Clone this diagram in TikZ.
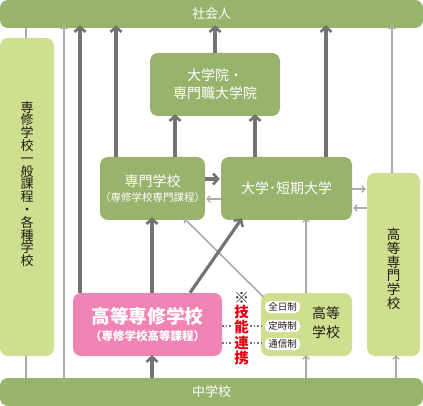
\documentclass[tikz,border=0pt]{standalone}
\usepackage{fontspec}
\setmainfont{Noto Sans CJK JP}
\usetikzlibrary{arrows.meta}
\definecolor{dkgreen}{HTML}{98B36C}
\definecolor{ltgreen}{HTML}{CEE08F}
\definecolor{pinkbox}{HTML}{F084B4}
\definecolor{arrdark}{HTML}{737373}
\definecolor{arrlight}{HTML}{ABABAB}
\definecolor{redtxt}{HTML}{E60012}
\definecolor{txtdark}{HTML}{231815}
\begin{document}
\begin{tikzpicture}[x=1pt,y=-1pt,
  box/.style={rectangle, rounded corners=8pt, inner sep=0pt, align=center},
  dbox/.style={box, fill=dkgreen, text=white},
  lbox/.style={box, fill=ltgreen, text=txtdark},
  pill/.style={rectangle, rounded corners=5pt, fill=white, inner sep=0pt, minimum width=35pt, minimum height=12pt, font=\fontsize{9.5}{10}\selectfont, text=txtdark},
  thk/.style={draw=arrdark, line width=3.2pt, -{Straight Barb[length=5pt,width=11pt,line width=2.6pt]}},
  thn/.style={draw=arrlight, line width=1.6pt, -{Straight Barb[length=3pt,width=6.5pt,line width=1.4pt]}},
  pln/.style={draw=arrlight, line width=1.6pt},
  dot/.style={draw=arrdark, line width=1.3pt, dash pattern=on 1.3pt off 2.2pt},
  vtxt/.style={align=center, inner sep=0pt, text=txtdark}
]
\useasboundingbox (0,0) rectangle (423,406);
% bars
\node[dbox, minimum width=423pt, minimum height=28pt, font=\fontsize{13}{14}\selectfont] (top) at (211.5,14) {社会人};
\node[dbox, minimum width=423pt, minimum height=28pt, font=\fontsize{13}{14}\selectfont] (bot) at (211.5,392) {中学校};
% side boxes
\node[lbox, minimum width=54pt, minimum height=318pt] (left) at (27,197) {};
\node[vtxt, font=\fontsize{13}{12.8}\selectfont] (lefttxt) at (27,184)
  {専\\修\\学\\校\\一\\般\\課\\程\\・\\各\\種\\学\\校};
\node[lbox, minimum width=53pt, minimum height=183pt] (kosen) at (393.5,264.5) {};
\node[vtxt, font=\fontsize{13.5}{13.7}\selectfont] (kosentxt) at (393.5,269)
  {高\\等\\専\\門\\学\\校};
% main boxes
\node[dbox, minimum width=130pt, minimum height=63pt, font=\fontsize{14}{18}\selectfont] (inst) at (215,84.5)
  {大学院・\\専門職大学院};
\node[dbox, minimum width=103pt, minimum height=63pt, font=\fontsize{10.5}{15}\selectfont] (senmon) at (152.5,188.5)
  {{\fontsize{14}{16}\selectfont 専門学校}\\（専修学校専門課程）};
\node[dbox, minimum width=131pt, minimum height=63pt, font=\fontsize{14}{16}\selectfont] (daigaku) at (286.5,188.5)
  {大学･短期大学};
\node[box, fill=pinkbox, text=white, minimum width=149pt, minimum height=63pt, font=\fontsize{11.5}{17}\selectfont\bfseries] (pink) at (147.5,324.5)
  {{\fontsize{18.7}{20}\selectfont 高等専修学校}\\（専修学校高等課程）};
\node[lbox, minimum width=91pt, minimum height=63pt] (koko) at (306.5,324.5) {};
\node[vtxt, font=\fontsize{14}{19}\selectfont] (kokolbl) at (326,322.5) {高等\\学校};
\node[pill] (zen) at (282.5,307) {全日制};
\node[pill] (tei) at (282.5,326) {定時制};
\node[pill] (tsu) at (282.5,344) {通信制};
% dotted links
\draw[dot] (pink.east |- 0,326) -- (koko.west |- 0,326);
\draw[dot] (pink.east |- 0,343) -- (koko.west |- 0,343);
% technical cooperation label
\node[vtxt, text=redtxt, fill=white, inner xsep=1.5pt, font=\fontsize{14.5}{15.5}\selectfont\bfseries] (renkei) at (241.5,335)
  {技\\能\\連\\携};
\node[vtxt, font=\fontsize{15}{15}\selectfont] (kome) at (241.5,298) {※};
% plain lines from left box
\draw[pln] (26,0 |- left.north) -- (26,0 |- top.south);
\draw[pln] (26,0 |- left.south) -- (26,0 |- bot.north);
% thin arrows
\draw[thn] (64,0 |- bot.north) -- ([yshift=3pt]64,0 |- top.south);
\draw[thn] (392,0 |- kosen.north) -- ([yshift=3pt]392,0 |- top.south);
\draw[thn] (daigaku.east |- 0,189) -- ([xshift=-1pt]kosen.west |- 0,189);
\draw[thn] (kosen.west |- 0,208) -- ([xshift=1pt]daigaku.east |- 0,208);
\draw[thn] (daigaku.west |- 0,199) -- ([xshift=1pt]senmon.east |- 0,199);
\draw[thn] (306,0 |- koko.north) -- ([yshift=2pt]306,0 |- daigaku.south);
\coordinate (kokocorner) at (263.5,297);
\draw[thn] (kokocorner) -- ([yshift=2pt]184,0 |- senmon.south);
\draw[thn] (306,0 |- bot.north) -- ([yshift=1pt]306,0 |- koko.south);
\draw[thn] (396,0 |- bot.north) -- ([yshift=1pt]396,0 |- kosen.south);
% thick arrows
\draw[thk] (80,0 |- pink.north) -- ([yshift=3pt]80,0 |- top.south);
\draw[thk] (116,0 |- senmon.north) -- ([yshift=3pt]116,0 |- top.south);
\draw[thk] (175,0 |- senmon.north) -- ([yshift=2pt]175,0 |- inst.south);
\draw[thk] (255,0 |- daigaku.north) -- ([yshift=2pt]255,0 |- inst.south);
\draw[thk] (215,0 |- inst.north) -- ([yshift=3pt]215,0 |- top.south);
\draw[thk] (326,0 |- daigaku.north) -- ([yshift=3pt]326,0 |- top.south);
\draw[thk] (senmon.east |- 0,179) -- ([xshift=-1pt]daigaku.west |- 0,179);
\draw[thk] (152,0 |- pink.north) -- ([yshift=3pt]152,0 |- senmon.south);
\draw[thk] (190,0 |- pink.north) -- ([yshift=2pt]242,0 |- daigaku.south);
\draw[thk] (152,0 |- bot.north) -- ([yshift=1pt]152,0 |- pink.south);
\end{tikzpicture}
\end{document}
